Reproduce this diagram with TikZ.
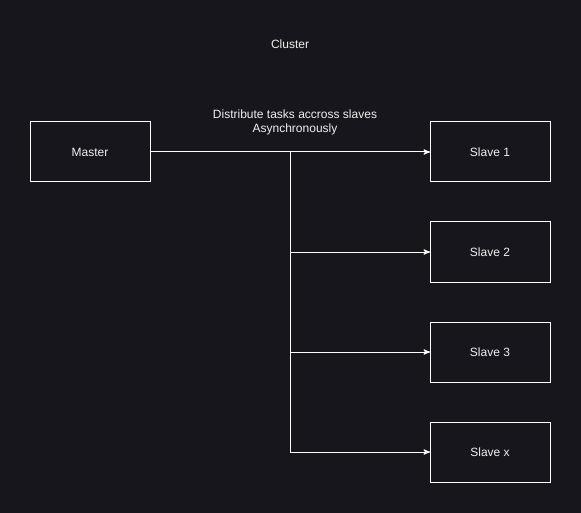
\documentclass[tikz,border=0pt]{standalone}
\usepackage{fontspec}
\setmainfont{Liberation Sans}
\usetikzlibrary{arrows}
\definecolor{bgdark}{HTML}{18161D}
\definecolor{fgtext}{HTML}{F0F0F0}

\begin{document}
\begin{tikzpicture}[x=0.75pt,y=-0.75pt,
  box/.style={draw=white, line width=0.75pt, minimum width=90pt, minimum height=45pt, inner sep=0pt, outer sep=0pt, text=fgtext, font=\fontsize{9}{11}\selectfont},
  lbl/.style={text=fgtext, font=\fontsize{9}{10.5}\selectfont, align=center},
  link/.style={draw=white, line width=0.75pt, -stealth'}]
%background
\fill[bgdark] (0,0) rectangle (581,513);
\useasboundingbox (0,0) rectangle (581,513);

\node[lbl] (cluster) at (290,44) {Cluster};
\node[lbl] (task) at (295,122) {Distribute tasks accross slaves\\Asynchronously};

\node[box] (master) at (90,152) {Master};
\node[box] (slave1) at (490,152) {Slave 1};
\node[box] (slave2) at (490,252) {Slave 2};
\node[box] (slave3) at (490,352) {Slave 3};
\node[box] (slavex) at (490,452) {Slave x};

\coordinate (fork) at (290,152);
\draw[link] (master.east) -- (slave1.west);
\draw[link] (fork) |- (slave2.west);
\draw[link] (fork) |- (slave3.west);
\draw[link] (fork) |- (slavex.west);

\end{tikzpicture}
\end{document}
